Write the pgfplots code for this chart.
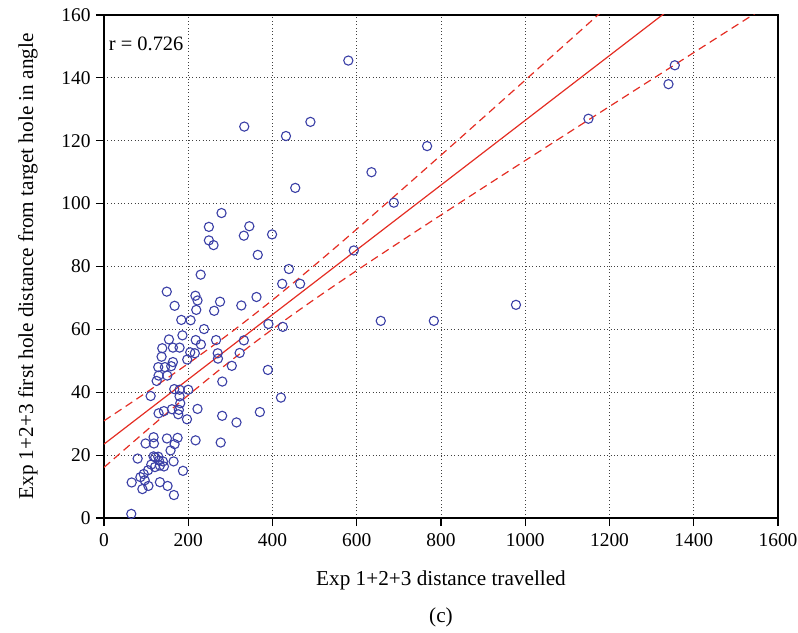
\documentclass[border=0pt]{standalone}
\usepackage{fontspec}
\setmainfont{Liberation Serif}
\usepackage{pgfplots}
\pgfplotsset{compat=1.18}
\usepackage{pgfplotstable}
\definecolor{ptblue}{RGB}{58,63,166}
\definecolor{fitred}{RGB}{228,45,35}
\pgfplotstableread{
x y
580 145.5
1355 144
1340 138
1150 127
490 126
333 124.5
432 121.5
767 118.3
635 110
454 105
688 100.3
593 85.1
978 67.8
657 62.7
783 62.7
279 97
249 92.6
345 92.8
332 89.8
399 90.2
249 88.3
260 86.8
365 83.7
229.5 77.4
439 79.2
423 74.5
465.5 74.5
149 72
217 70.7
222 69.2
167.6 67.5
275.5 68.8
219 66.2
261.5 65.9
362 70.3
326 67.6
183.5 63
205.5 62.9
390.3 61.7
424.5 60.8
237.5 60.1
154.2 56.8
186.2 58.1
217.8 56.6
266 56.6
230 55.2
332 56.5
138.3 54
163.6 54.2
179.4 54.2
204.7 52.7
215.6 52.4
269.9 52.4
322 52.5
197.6 50.4
270.5 50.7
136.7 51.3
163.6 49.6
128.8 48
144.6 48
159.6 48.3
303.4 48.4
389 47.1
129.6 45.3
150.2 45.3
125 43.6
280.8 43.4
110.7 38.8
166.8 41
179.4 40.8
200 40.8
179.4 38.7
181 36.5
129.6 33.3
142.3 34
161.3 34.6
177.8 34.4
176.2 33
222 34.7
197 31.4
280.5 32.5
314.5 30.4
370 33.7
420 38.3
98.7 23.7
117.7 25.7
118.5 23.7
149.4 25.3
174.7 25.5
167.6 23.5
217.4 24.7
277 24
79.9 18.9
117.7 19.6
158 21.5
121.6 19.3
128.8 19.5
130.3 18.3
139.9 18
165.2 18
112.2 17
120.9 16.2
132.7 16.7
142.3 16.4
104.6 15.2
94.3 14
86.4 13
96.6 12
65.7 11.3
132.7 11.4
150.9 10.2
91.1 9.2
105.4 10.2
187.5 15
166 7.3
64.8 1.3
}\pts
\pgfplotstableread{
x fit upper lower
0 23.5 30.91 16.09
100 33.8 39.88 27.72
200 44.1 49.14 39.06
300 54.4 58.90 49.90
400 64.7 69.34 60.06
500 75.0 80.41 69.59
600 85.3 91.88 78.72
700 95.6 103.59 87.61
800 105.9 115.42 96.38
900 116.2 127.33 105.07
1000 126.5 139.29 113.71
1100 136.8 151.28 122.32
1200 147.1 163.29 130.91
1300 157.4 175.32 139.48
1400 167.7 187.36 148.04
1500 178.0 199.40 156.60
1600 188.3 211.45 165.15
}\fitdata
\begin{document}
\begin{tikzpicture}
\path[use as bounding box] (-104bp,-115bp) rectangle (694bp,518bp);
\begin{axis}[
  at={(0,0)}, anchor=south west,
  scale only axis, width=674bp, height=503bp,
  xmin=0, xmax=1600, ymin=0, ymax=160,
  xtick={0,200,...,1600}, ytick={0,20,...,160},
  /pgf/number format/1000 sep={},
  /pgf/number format/assume math mode=true,
  tick pos=left, tick align=outside,
  major tick length=8bp,
  tick style={line width=1.1bp, black},
  axis line style={line width=1.1bp},
  grid=major,
  major grid style={black!75, line width=0.8bp, dash pattern=on 0.8bp off 2.6bp},
  ticklabel style={font=\fontsize{19.5}{22}\selectfont},
  xticklabel style={yshift=-4bp},
  yticklabel style={xshift=-2bp},
  label style={font=\fontsize{21.3}{24}\selectfont},
  xlabel={Exp 1+2+3 distance travelled},
  ylabel={Exp 1+2+3 first hole distance from target hole in angle},
  xlabel style={at={(axis description cs:0.5,-0.125)}, anchor=center},
  ylabel style={at={(axis description cs:-0.113,0.5)}, anchor=center},
  clip=true,
]
\addplot[only marks, mark=o, mark size=4.6bp, mark options={ptblue, line width=1.1bp}] table[x=x,y=y] {\pts};
\addplot[fitred, line width=1.2bp] table[x=x,y=fit] {\fitdata};
\addplot[fitred, line width=1.2bp, dash pattern=on 8bp off 5bp, smooth] table[x=x,y=upper] {\fitdata};
\addplot[fitred, line width=1.2bp, dash pattern=on 8bp off 5bp, smooth] table[x=x,y=lower] {\fitdata};
\node[anchor=west, inner sep=0pt, font=\fontsize{20.5}{24}\selectfont, fill=white] at (rel axis cs:0.007,0.942) {r = 0.726};
\end{axis}
\node[font=\fontsize{21.3}{24}\selectfont] at (337bp,-99bp) {(c)};
\end{tikzpicture}
\end{document}
